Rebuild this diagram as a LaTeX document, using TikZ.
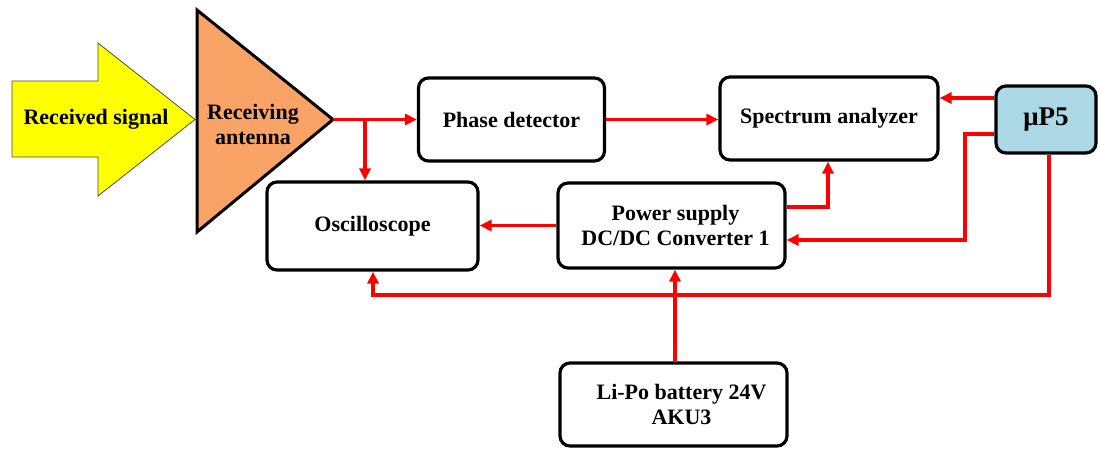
\documentclass[tikz,border=0pt]{standalone}
\usepackage{fontspec}
\setmainfont{Liberation Serif}
\usetikzlibrary{arrows.meta,calc}
\definecolor{sigyellow}{HTML}{FFFF00}
\definecolor{antorange}{HTML}{F9A366}
\definecolor{mublue}{HTML}{ADD8E6}
\tikzset{
  blk/.style={draw=black,line width=3.2pt,rounded corners=10pt,fill=white,align=center,
    font=\bfseries\fontsize{22}{25}\selectfont,inner sep=0pt},
  wire/.style={draw=red,line width=3.8pt,-{Triangle[length=12pt,width=11pt]}},
  lbl/.style={font=\bfseries\fontsize{22}{25}\selectfont,align=center,inner sep=0pt}
}
\begin{document}
\begin{tikzpicture}[x=1pt,y=-1pt]
\useasboundingbox (0,0) rectangle (1099,448);
% received signal arrow
\draw[fill=sigyellow,draw=black!70,line width=0.8pt]
  (12,81) -- (98,81) -- (98,43) -- (195,119.5) -- (98,196) -- (98,157) -- (12,157) -- cycle;
\node[lbl] (sig) at (96,119.5) {Received signal};
% antenna
\draw[fill=antorange,draw=black,line width=3pt,line join=miter]
  (197,10) -- (333,119.5) -- (197,232) -- cycle;
\coordinate (anttip) at (333,119.5);
\node[lbl] (ant) at (253,124) {Receiving\\antenna};
% blocks
\node[blk,minimum width=186pt,minimum height=83pt] (pd) at (511.5,119.5) {Phase detector};
\node[blk,minimum width=218pt,minimum height=83pt] (sa) at (829,118.5) {Spectrum analyzer};
\node[blk,fill=mublue,minimum width=100pt,minimum height=67pt,font=\bfseries\fontsize{27}{30}\selectfont] (mu) at (1046,119.5) {μP5};
\node[blk,minimum width=211pt,minimum height=88pt] (osc) at (372.5,226) {Oscilloscope};
\node[blk,minimum width=227pt,minimum height=85pt] (ps) at (671.5,225.5) {\hspace{8pt}Power supply\\\hspace{8pt}DC/DC Converter 1};
\node[blk,minimum width=227pt,minimum height=83pt] (bat) at (673.5,404.5) {\hspace{16pt}Li-Po battery 24V\\\hspace{16pt}AKU3};
% connectors
\coordinate (br) at (365,119.5);
\draw[wire] (anttip) -- (pd.west |- anttip);
\draw[wire] (br) -- (br |- osc.north);
\draw[wire] (pd.east) -- (sa.west |- pd.east);
\draw[wire] (mu.west |- 0,98) -- (sa.east |- 0,98);
\draw[wire] (mu.west |- 0,134) -- (965,134) -- (965,240) -- (ps.east |- 0,240);
\draw[wire] (ps.east |- 0,207) -- (828,207) -- (sa.south -| 828,0);
\draw[wire] (ps.west) -- (osc.east |- ps.west);
\draw[wire] (mu.south -| 1049,0) -- (1049,295) -- (373,295) -- (osc.south -| 373,0);
\draw[wire] (bat.north -| 675,0) -- (ps.south -| 675,0);
\end{tikzpicture}
\end{document}
